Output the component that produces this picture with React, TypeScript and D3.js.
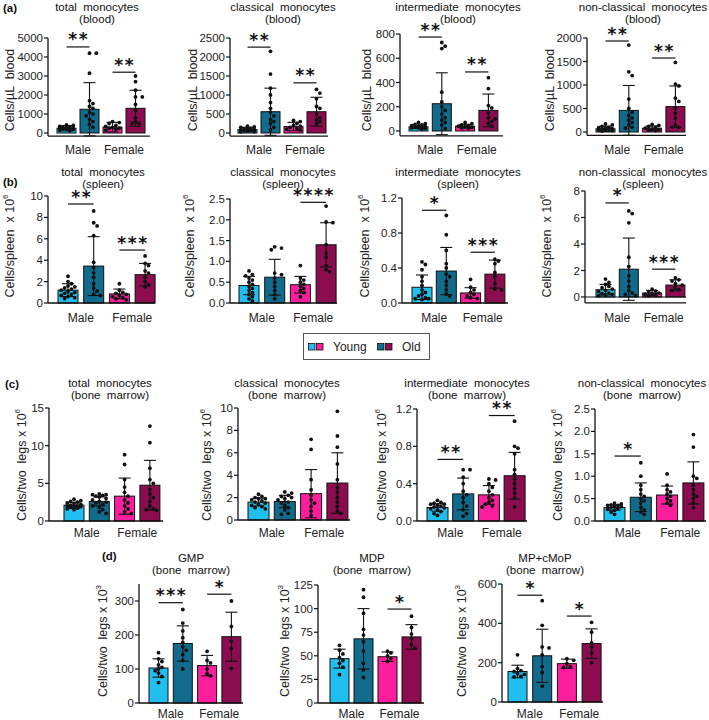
import React from "react";
import * as d3 from "d3";

const groups = ["YM", "OM", "YF", "OF"];
const groupColors = ["#21BFEF", "#106B8C", "#FC1E9C", "#8B0C4F"];
const sexLabels = ["Male", "Female"];
const legendLabels = ["Young", "Old"];

// ---------- (a) blood ----------
const bloodTotalMean = [250, 1250, 310, 1300];
const bloodTotalSD = [140, 1400, 250, 950];
const bloodTotalDots = [
  [150, 180, 200, 220, 250, 260, 280, 300, 320, 350, 400, 420, 120, 230],
  [4200, 4200, 3150, 1700, 1400, 1300, 1100, 1000, 900, 700, 600, 450, 300, 1550],
  [150, 200, 250, 300, 350, 400, 500, 550, 600, 250],
  [3000, 2700, 2250, 1900, 1900, 1500, 1200, 800, 600, 500, 500],
];
const bloodTotalTicks = [0, 1000, 2000, 3000, 4000, 5000];

const bloodClassicalMean = [90, 560, 170, 560];
const bloodClassicalSD = [60, 620, 110, 380];
const bloodClassicalDots = [
  [30, 50, 60, 70, 80, 90, 100, 110, 120, 150, 160, 180, 40],
  [2150, 1550, 1180, 1000, 800, 650, 550, 450, 350, 250, 150, 80, 300],
  [80, 100, 120, 150, 180, 200, 250, 300, 330],
  [1150, 1050, 900, 700, 650, 500, 400, 350, 300, 250],
];
const bloodClassicalTicks = [0, 500, 1000, 1500, 2000, 2500];

const bloodInterMean = [35, 225, 40, 170];
const bloodInterSD = [15, 255, 15, 135];
const bloodInterDots = [
  [15, 20, 25, 30, 30, 35, 40, 45, 50, 55, 60, 70, 25],
  [730, 700, 680, 320, 240, 200, 170, 140, 110, 90, 70, 50, 20],
  [20, 25, 30, 35, 40, 45, 50, 60, 70],
  [440, 350, 210, 190, 150, 110, 80, 60, 40, 100],
];
const bloodInterTicks = [0, 200, 400, 600, 800];

const bloodNonClassMean = [70, 460, 80, 540];
const bloodNonClassSD = [55, 530, 50, 440];
const bloodNonClassDots = [
  [20, 30, 40, 50, 60, 70, 80, 100, 120, 150, 170, 40, 90],
  [1850, 1280, 1200, 700, 500, 420, 350, 300, 250, 200, 150, 100, 80],
  [30, 40, 50, 60, 80, 100, 120, 140, 160],
  [1480, 1020, 980, 720, 650, 500, 400, 300, 150, 100, 100],
];
const bloodNonClassTicks = [0, 500, 1000, 1500, 2000];

// ---------- (b) spleen ----------
const spleenTotalMean = [1.2, 3.45, 0.85, 2.65];
const spleenTotalSD = [0.6, 2.75, 0.45, 1.05];
const spleenTotalDots = [
  [2.5, 2.0, 1.8, 1.6, 1.4, 1.3, 1.2, 1.1, 1.0, 0.9, 0.8, 0.7, 0.6, 0.5, 0.4, 1.5],
  [8.6, 7.5, 7.2, 6.3, 3.8, 3.3, 2.8, 2.4, 1.8, 1.4, 1.1, 0.8, 0.7],
  [1.8, 1.2, 1.0, 0.9, 0.8, 0.7, 0.6, 0.5, 0.4, 0.3],
  [4.4, 3.7, 3.5, 3.0, 2.8, 2.4, 2.0, 1.7, 1.5],
];
const spleenTotalTicks = [0, 2, 4, 6, 8, 10];

const spleenClassicalMean = [0.42, 0.62, 0.44, 1.4];
const spleenClassicalSD = [0.22, 0.43, 0.2, 0.53];
const spleenClassicalDots = [
  [0.77, 0.68, 0.65, 0.6, 0.55, 0.5, 0.45, 0.4, 0.35, 0.3, 0.25, 0.2, 0.15, 0.1, 0.05],
  [1.35, 1.32, 1.28, 0.72, 0.68, 0.6, 0.5, 0.4, 0.3, 0.2, 0.1],
  [0.9, 0.6, 0.55, 0.5, 0.45, 0.4, 0.35, 0.3, 0.25, 0.15],
  [2.33, 1.95, 1.93, 1.4, 1.2, 1.1, 0.9, 0.8, 0.75],
];
const spleenClassicalTicks = [0, 0.5, 1.0, 1.5, 2.0, 2.5];

const spleenInterMean = [0.18, 0.365, 0.115, 0.33];
const spleenInterSD = [0.14, 0.27, 0.06, 0.16];
const spleenInterDots = [
  [0.47, 0.44, 0.38, 0.3, 0.25, 0.2, 0.15, 0.12, 0.1, 0.08, 0.06, 0.05, 0.05, 0.04],
  [1.0, 0.78, 0.6, 0.45, 0.4, 0.33, 0.3, 0.25, 0.2, 0.15, 0.1, 0.08],
  [0.27, 0.18, 0.15, 0.12, 0.1, 0.08, 0.06, 0.05],
  [0.5, 0.48, 0.45, 0.35, 0.3, 0.22, 0.16, 0.15],
];
const spleenInterTicks = [0, 0.4, 0.8, 1.2];

const spleenNonClassMean = [0.55, 2.1, 0.3, 0.9];
const spleenNonClassSD = [0.4, 2.35, 0.2, 0.4];
const spleenNonClassDots = [
  [1.35, 1.1, 0.95, 0.8, 0.7, 0.6, 0.5, 0.4, 0.3, 0.25, 0.2, 0.15, 0.1],
  [6.5, 6.3, 5.6, 3.0, 2.3, 1.6, 1.2, 0.8, 0.5, 0.3, 0.2, 0.1],
  [0.6, 0.45, 0.4, 0.3, 0.25, 0.2, 0.15, 0.1],
  [1.45, 1.3, 1.2, 1.0, 0.9, 0.7, 0.55, 0.5],
];
const spleenNonClassTicks = [0, 2, 4, 6, 8];

// ---------- (c) bone marrow ----------
const bmTotalMean = [2.1, 2.6, 3.3, 4.75];
const bmTotalSD = [0.4, 0.6, 2.4, 3.3];
const bmTotalDots = [
  [2.9, 2.7, 2.6, 2.4, 2.3, 2.2, 2.1, 2.0, 1.9, 1.8, 1.7, 1.6, 1.5, 2.5, 2.0, 1.9],
  [3.6, 3.5, 3.4, 3.3, 3.2, 3.0, 2.8, 2.6, 2.5, 2.4, 2.2, 2.0, 1.8, 1.5, 1.2, 1.0, 3.5],
  [8.8, 7.5, 5.5, 4.5, 3.8, 3.3, 2.8, 2.4, 2.0, 1.6, 1.2, 1.0],
  [12.6, 10.4, 7.0, 5.5, 5.0, 4.2, 3.6, 3.1, 2.6, 2.0, 1.6, 1.5, 1.4],
];
const bmTotalTicks = [0, 5, 10, 15];

const bmClassicalMean = [1.6, 1.65, 2.35, 3.3];
const bmClassicalSD = [0.35, 0.55, 2.15, 2.7];
const bmClassicalDots = [
  [2.3, 2.1, 2.0, 1.9, 1.8, 1.7, 1.6, 1.5, 1.4, 1.3, 1.2, 1.1, 1.0, 1.9],
  [2.5, 2.4, 2.2, 2.0, 1.9, 1.8, 1.6, 1.5, 1.3, 1.1, 0.9, 0.6, 0.5, 2.1],
  [7.2, 6.3, 3.6, 2.7, 2.2, 1.8, 1.5, 1.2, 0.8, 0.4],
  [9.7, 7.5, 6.5, 5.0, 3.6, 2.9, 2.5, 2.0, 1.6, 1.2, 0.8, 0.6],
];
const bmClassicalTicks = [0, 2, 4, 6, 8, 10];

const bmInterMean = [0.145, 0.29, 0.28, 0.485];
const bmInterSD = [0.04, 0.17, 0.1, 0.25];
const bmInterDots = [
  [0.22, 0.2, 0.19, 0.18, 0.17, 0.16, 0.15, 0.14, 0.13, 0.12, 0.1, 0.08, 0.06, 0.18],
  [0.55, 0.55, 0.47, 0.4, 0.32, 0.28, 0.25, 0.2, 0.16, 0.12, 0.08, 0.05],
  [0.45, 0.44, 0.4, 0.36, 0.32, 0.28, 0.25, 0.22, 0.2, 0.18, 0.16, 0.15],
  [1.07, 0.8, 0.78, 0.72, 0.55, 0.5, 0.45, 0.4, 0.35, 0.3, 0.25, 0.15],
];
const bmInterTicks = [0, 0.4, 0.8, 1.2];

const bmNonClassMean = [0.3, 0.53, 0.58, 0.85];
const bmNonClassSD = [0.06, 0.32, 0.2, 0.47];
const bmNonClassDots = [
  [0.4, 0.38, 0.36, 0.35, 0.33, 0.32, 0.3, 0.28, 0.26, 0.24, 0.2, 0.15, 0.35],
  [1.3, 1.0, 0.8, 0.7, 0.6, 0.55, 0.5, 0.45, 0.4, 0.3, 0.25, 0.2, 0.15],
  [1.05, 0.8, 0.7, 0.65, 0.6, 0.55, 0.5, 0.45, 0.4, 0.35],
  [1.93, 1.65, 1.0, 0.95, 0.8, 0.7, 0.6, 0.55, 0.5, 0.4, 0.3],
];
const bmNonClassTicks = [0, 0.5, 1.0, 1.5, 2.0, 2.5];

// ---------- (d) progenitors ----------
const gmpMean = [103, 175, 110, 195];
const gmpSD = [27, 52, 30, 72];
const gmpDots = [
  [148, 130, 122, 112, 105, 100, 95, 88, 78, 60],
  [275, 235, 212, 192, 178, 165, 155, 142, 125, 100],
  [152, 125, 118, 100, 86, 80],
  [300, 225, 182, 160, 102],
];
const gmpTicks = [0, 100, 200, 300];

const mdpMean = [47, 68, 49, 70];
const mdpSD = [10, 32, 5, 13];
const mdpDots = [
  [61, 56, 52, 48, 45, 42, 38, 30],
  [120, 112, 95, 78, 72, 65, 55, 42, 35, 27],
  [55, 53, 50, 47, 44],
  [92, 80, 73, 68, 62, 58],
];
const mdpTicks = [0, 25, 50, 75, 100, 125];

const mpMean = [155, 235, 195, 297];
const mpSD = [32, 135, 23, 75];
const mpDots = [
  [240, 170, 160, 155, 145, 140, 130, 128],
  [515, 390, 280, 275, 240, 180, 150, 80],
  [220, 212, 195, 180, 176],
  [405, 355, 300, 280, 250, 200],
];
const mpTicks = [0, 200, 400, 600];

// significance: [pair (0 male / 1 female), value, stars]
const sigBloodTotal = [[0, 4530, "**"], [1, 3200, "**"]];
const sigBloodClassical = [[0, 2260, "**"], [1, 1320, "**"]];
const sigBloodInter = [[0, 775, "**"], [1, 487, "**"]];
const sigBloodNonClass = [[0, 1936, "**"], [1, 1574, "**"]];
const sigSpleenTotal = [[0, 9.25, "**"], [1, 4.95, "***"]];
const sigSpleenClassical = [[1, 2.42, "****"]];
const sigSpleenInter = [[0, 1.06, "*"], [1, 0.58, "***"]];
const sigSpleenNonClass = [[0, 7.1, "*"], [1, 2.1, "***"]];
const sigBmInter = [[0, 0.66, "**"], [1, 1.13, "**"]];
const sigBmNonClass = [[0, 1.45, "*"]];
const sigGmp = [[0, 295, "***"], [1, 320, "*"]];
const sigMdp = [[1, 99.5, "*"]];
const sigMp = [[0, 543, "*"], [1, 437, "*"]];

const FONT = "'Liberation Sans', Arial, Helvetica, sans-serif";

type Panel = {
  title: string[];
  ylab: string;
  sup?: string;
  mean: number[];
  sd: number[];
  dots: number[][];
  ticks: number[];
  sig: any[];
  dec?: boolean;
  yMax: number;
  yMin: number;
  x0: number;
  xEnd: number;
  yTopPx: number;
  y0Px: number;
  barStart: number;
  step: number;
  bw: number;
  titleX: number;
  titleY: number;
  ylabX: number;
  ylabY: number;
  catY: number;
  zeroLine?: boolean;
};

const rowA = { titleY: 11, ylabY: 90, catY: 154 };
const rowB = { titleY: 176, ylabY: 246, catY: 322 };
const rowC = { titleY: 387, ylabY: 465, catY: 537 };
const rowD = { titleY: 562, ylabY: 641, catY: 718 };

const panels: Panel[] = [
  { title: ["total  monocytes", "(blood)"], ylab: "Cells/µL  blood", mean: bloodTotalMean, sd: bloodTotalSD, dots: bloodTotalDots, ticks: bloodTotalTicks, sig: sigBloodTotal,
    yMax: 5000, yMin: -160, x0: 48, xEnd: 150, yTopPx: 38, y0Px: 133, barStart: 57, step: 23, bw: 19, titleX: 97, ylabX: 10, ...rowA },
  { title: ["classical  monocytes", "(blood)"], ylab: "Cells/µL  blood", mean: bloodClassicalMean, sd: bloodClassicalSD, dots: bloodClassicalDots, ticks: bloodClassicalTicks, sig: sigBloodClassical,
    yMax: 2500, yMin: -80, x0: 230, xEnd: 328, yTopPx: 38, y0Px: 133, barStart: 238, step: 23, bw: 19, titleX: 283, ylabX: 193, ...rowA },
  { title: ["intermediate  monocytes", "(blood)"], ylab: "Cells/µL  blood", mean: bloodInterMean, sd: bloodInterSD, dots: bloodInterDots, ticks: bloodInterTicks, sig: sigBloodInter,
    yMax: 800, yMin: -40, x0: 400, xEnd: 503, yTopPx: 34, y0Px: 131, barStart: 409, step: 23.3, bw: 19, titleX: 458, ylabX: 367, ...rowA },
  { title: ["non-classical  monocytes", "(blood)"], ylab: "Cells/µL  blood", mean: bloodNonClassMean, sd: bloodNonClassSD, dots: bloodNonClassDots, ticks: bloodNonClassTicks, sig: sigBloodNonClass,
    yMax: 2000, yMin: -70, x0: 587, xEnd: 686, yTopPx: 38, y0Px: 132, barStart: 596, step: 23.3, bw: 19, titleX: 643, ylabX: 550, ...rowA },

  { title: ["total  monocytes", "(spleen)"], ylab: "Cells/spleen  x 10", sup: "6", mean: spleenTotalMean, sd: spleenTotalSD, dots: spleenTotalDots, ticks: spleenTotalTicks, sig: sigSpleenTotal,
    yMax: 10, yMin: 0, x0: 48, xEnd: 155, yTopPx: 196, y0Px: 303, barStart: 58, step: 25.7, bw: 20, titleX: 103, ylabX: 10, ...rowB },
  { title: ["classical  monocytes", "(spleen)"], ylab: "Cells/spleen  x 10", sup: "6", mean: spleenClassicalMean, sd: spleenClassicalSD, dots: spleenClassicalDots, ticks: spleenClassicalTicks, sig: sigSpleenClassical, dec: true,
    yMax: 2.5, yMin: 0, x0: 230, xEnd: 337, yTopPx: 199, y0Px: 303, barStart: 239, step: 25.7, bw: 20, titleX: 283, ylabX: 190, ...rowB },
  { title: ["intermediate  monocytes", "(spleen)"], ylab: "Cells/spleen  x 10", sup: "6", mean: spleenInterMean, sd: spleenInterSD, dots: spleenInterDots, ticks: spleenInterTicks, sig: sigSpleenInter, dec: true,
    yMax: 1.2, yMin: 0, x0: 402, xEnd: 508, yTopPx: 198, y0Px: 303, barStart: 412, step: 24.3, bw: 20, titleX: 458, ylabX: 365, ...rowB },
  { title: ["non-classical  monocytes", "(spleen)"], ylab: "Cells/spleen  x 10", sup: "6", mean: spleenNonClassMean, sd: spleenNonClassSD, dots: spleenNonClassDots, ticks: spleenNonClassTicks, sig: sigSpleenNonClass,
    yMax: 8, yMin: -0.45, x0: 585, xEnd: 686, yTopPx: 191, y0Px: 297, barStart: 596, step: 23.3, bw: 19, titleX: 643, ylabX: 547, zeroLine: true, ...rowB },

  { title: ["total  monocytes", "(bone  marrow)"], ylab: "Cells/two  legs x 10", sup: "6", mean: bmTotalMean, sd: bmTotalSD, dots: bmTotalDots, ticks: bmTotalTicks, sig: [],
    yMax: 15, yMin: 0, x0: 49, xEnd: 163, yTopPx: 408, y0Px: 521, barStart: 64, step: 25.3, bw: 20, titleX: 110, ylabX: 22, ...rowC },
  { title: ["classical  monocytes", "(bone  marrow)"], ylab: "Cells/two  legs x 10", sup: "6", mean: bmClassicalMean, sd: bmClassicalSD, dots: bmClassicalDots, ticks: bmClassicalTicks, sig: [],
    yMax: 10, yMin: 0, x0: 238, xEnd: 350, yTopPx: 408, y0Px: 520, barStart: 248, step: 26.3, bw: 21, titleX: 287, ylabX: 207, ...rowC },
  { title: ["intermediate  monocytes", "(bone  marrow)"], ylab: "Cells/two  legs x 10", sup: "6", mean: bmInterMean, sd: bmInterSD, dots: bmInterDots, ticks: bmInterTicks, sig: sigBmInter, dec: true,
    yMax: 1.2, yMin: 0, x0: 417, xEnd: 527, yTopPx: 409, y0Px: 521, barStart: 427, step: 25.7, bw: 21, titleX: 467, ylabX: 382, ...rowC },
  { title: ["non-classical  monocytes", "(bone  marrow)"], ylab: "Cells/two  legs x 10", sup: "6", mean: bmNonClassMean, sd: bmNonClassSD, dots: bmNonClassDots, ticks: bmNonClassTicks, sig: sigBmNonClass, dec: true,
    yMax: 2.5, yMin: 0, x0: 595, xEnd: 706, yTopPx: 409, y0Px: 521, barStart: 604, step: 26.3, bw: 21, titleX: 642, ylabX: 558, ...rowC },

  { title: ["GMP", "(bone  marrow)"], ylab: "Cells/two  legs x 10", sup: "3", mean: gmpMean, sd: gmpSD, dots: gmpDots, ticks: gmpTicks, sig: sigGmp,
    yMax: 350, yMin: 0, x0: 139, xEnd: 243, yTopPx: 584, y0Px: 703, barStart: 149, step: 24.3, bw: 19, titleX: 191, ylabX: 103, ...rowD },
  { title: ["MDP", "(bone  marrow)"], ylab: "Cells/two  legs x 10", sup: "3", mean: mdpMean, sd: mdpSD, dots: mdpDots, ticks: mdpTicks, sig: sigMdp,
    yMax: 125, yMin: 0, x0: 318, xEnd: 424, yTopPx: 585, y0Px: 703, barStart: 330, step: 24, bw: 19, titleX: 372, ylabX: 285, ...rowD },
  { title: ["MP+cMoP", "(bone  marrow)"], ylab: "Cells/two  legs x 10", sup: "3", mean: mpMean, sd: mpSD, dots: mpDots, ticks: mpTicks, sig: sigMp,
    yMax: 600, yMin: 0, x0: 502, xEnd: 603, yTopPx: 584, y0Px: 702, barStart: 508, step: 24.7, bw: 19, titleX: 545, ylabX: 462, ...rowD },
];

const panelLetters = [
  { t: "(a)", x: 3, y: 12 },
  { t: "(b)", x: 3, y: 186 },
  { t: "(c)", x: 5, y: 388 },
  { t: "(d)", x: 102, y: 560 },
];

function swarm(vals: number[], y: (v: number) => number, cx: number, half: number) {
  const placed: { x: number; y: number }[] = [];
  const sorted = [...vals].sort((a, b) => b - a);
  const minD = 3.8;
  const stepX = 3.4;
  for (const v of sorted) {
    const py = y(v);
    let best = cx;
    let bestScore = -1;
    for (let k = 0; k < 14; k++) {
      const off = k === 0 ? 0 : (k % 2 ? 1 : -1) * Math.ceil(k / 2) * stepX;
      if (Math.abs(off) > half) continue;
      const px = cx + off;
      const dmin = placed.length ? Math.min(...placed.map((p) => Math.hypot(p.x - px, p.y - py))) : 99;
      if (dmin >= minD) { best = px; bestScore = 99; break; }
      if (dmin > bestScore) { bestScore = dmin; best = px; }
    }
    placed.push({ x: best, y: py });
  }
  return placed;
}

function PanelView({ p }: { p: Panel }) {
  const y = d3.scaleLinear().domain([0, p.yMax]).range([p.y0Px, p.yTopPx]);
  const p0 = (p.step - p.bw) / p.step;
  const r0 = p.barStart - (p.step * p0) / 2;
  const x = d3.scaleBand<string>().domain(groups).range([r0, r0 + 4 * p.step]).paddingInner(p0).paddingOuter(p0 / 2);
  const bw = x.bandwidth();
  const yBot = y(p.yMin);
  const fmt = p.dec ? d3.format(".1f") : d3.format("d");
  const center = (g: string) => (x(g) as number) + bw / 2;
  const pairCenters = [
    (center(groups[0]) + center(groups[1])) / 2,
    (center(groups[2]) + center(groups[3])) / 2,
  ];
  return (
    <g>
      <text x={p.titleX} y={p.titleY} textAnchor="middle" fontSize={11.5} fill="#111" style={{ whiteSpace: "pre" }}>{p.title[0]}</text>
      <text x={p.titleX} y={p.titleY + 12} textAnchor="middle" fontSize={11.5} fill="#111" style={{ whiteSpace: "pre" }}>{p.title[1]}</text>
      <text transform={`translate(${p.ylabX},${p.ylabY}) rotate(-90)`} textAnchor="middle" dominantBaseline="central" fontSize={12.5} fill="#222" style={{ whiteSpace: "pre" }}>
        {p.ylab}
        {p.sup ? <tspan dy={-5} fontSize={8}>{p.sup}</tspan> : null}
      </text>
      {groups.map((g, i) => (
        <rect key={g} x={x(g)} y={y(p.mean[i])} width={bw} height={y(0) - y(p.mean[i])} fill={groupColors[i]} stroke="#111" strokeWidth={1} />
      ))}
      {groups.map((g, i) => {
        const cx = center(g);
        const hi = y(p.mean[i] + p.sd[i]);
        const lo = y(p.mean[i] - p.sd[i]);
        return (
          <g key={g} stroke="#111" strokeWidth={1.1}>
            <line x1={cx} x2={cx} y1={hi} y2={lo} />
            <line x1={cx - 6} x2={cx + 6} y1={hi} y2={hi} />
            <line x1={cx - 6} x2={cx + 6} y1={lo} y2={lo} />
          </g>
        );
      })}
      {groups.map((g, i) =>
        swarm(p.dots[i], y, center(g), bw / 2 - 2).map((d, j) => (
          <circle key={g + j} cx={d.x} cy={d.y} r={1.9} fill="#111" />
        ))
      )}
      {p.zeroLine ? <line x1={p.x0} x2={p.xEnd} y1={y(0)} y2={y(0)} stroke="#111" strokeWidth={1.2} /> : null}
      <line x1={p.x0} x2={p.x0} y1={y(p.yMax)} y2={yBot} stroke="#111" strokeWidth={1.3} />
      <line x1={p.x0} x2={p.xEnd} y1={yBot} y2={yBot} stroke="#111" strokeWidth={1.3} />
      {p.ticks.map((t) => (
        <g key={t}>
          <line x1={p.x0 - 4} x2={p.x0} y1={y(t)} y2={y(t)} stroke="#111" strokeWidth={1.2} />
          <text x={p.x0 - 5} y={y(t)} textAnchor="end" dominantBaseline="central" fontSize={11.5} fill="#222">{fmt(t)}</text>
        </g>
      ))}
      {sexLabels.map((s, k) => (
        <text key={s} x={pairCenters[k]} y={p.catY} textAnchor="middle" fontSize={12} fill="#222">{s}</text>
      ))}
      {p.sig.map((s: any, k: number) => {
        const a = center(groups[s[0] * 2]);
        const b = center(groups[s[0] * 2 + 1]);
        const ly = y(s[1]);
        return (
          <g key={k}>
            <line x1={a} x2={b} y1={ly} y2={ly} stroke="#111" strokeWidth={1.2} />
            <text x={(a + b) / 2 + 0.8} y={ly - 1.5} textAnchor="middle" fontSize={17} fontWeight="bold" letterSpacing={1.6} fontFamily="'DejaVu Sans', sans-serif" fill="#111">{s[2]}</text>
          </g>
        );
      })}
    </g>
  );
}

export default function App() {
  return (
    <svg width={709} height={720} viewBox="0 0 709 720" style={{ position: "absolute", left: 0, top: 0, background: "#fff" }} fontFamily={FONT}>
      <rect x={0} y={0} width={709} height={720} fill="#fff" />
      {panels.map((p, i) => <PanelView key={i} p={p} />)}
      {panelLetters.map((l) => (
        <text key={l.t} x={l.x} y={l.y} fontSize={11.5} fontWeight="bold" fill="#111">{l.t}</text>
      ))}
      <g>
        <rect x={303.5} y={333.5} width={126} height={26} fill="#fff" stroke="#555" strokeWidth={1} />
        <rect x={308.5} y={343.5} width={6.5} height={6.5} fill={groupColors[0]} stroke="#111" strokeWidth={0.8} />
        <rect x={316.5} y={343.5} width={6.5} height={6.5} fill={groupColors[2]} stroke="#111" strokeWidth={0.8} />
        <text x={333} y={347} dominantBaseline="central" fontSize={12} fill="#222">{legendLabels[0]}</text>
        <rect x={377.5} y={343.5} width={6.5} height={6.5} fill={groupColors[1]} stroke="#111" strokeWidth={0.8} />
        <rect x={385.5} y={343.5} width={6.5} height={6.5} fill={groupColors[3]} stroke="#111" strokeWidth={0.8} />
        <text x={402} y={347} dominantBaseline="central" fontSize={12} fill="#222">{legendLabels[1]}</text>
      </g>
    </svg>
  );
}
